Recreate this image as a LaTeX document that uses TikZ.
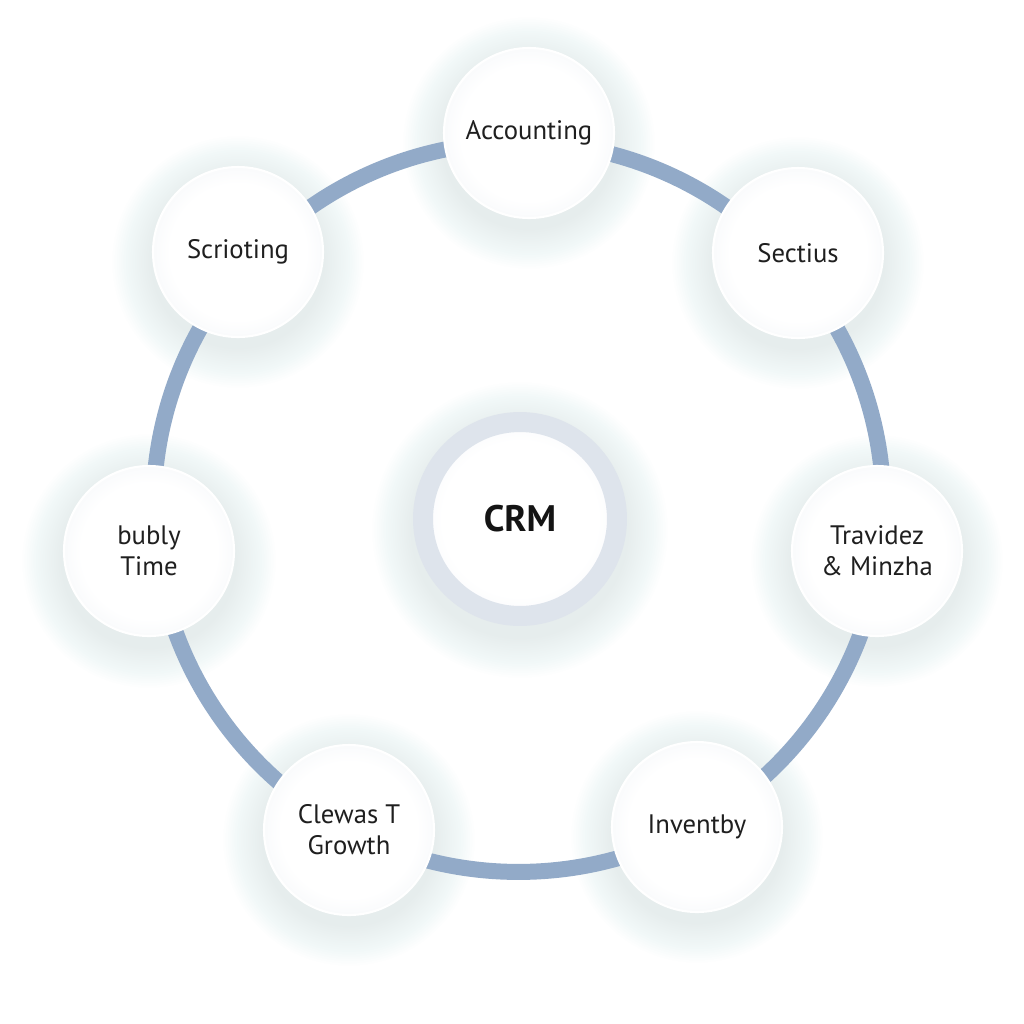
\documentclass[tikz,border=0pt]{standalone}
\usepackage{fontspec}
\setmainfont{PT Sans}
\definecolor{ringBlue}{RGB}{146,170,200}
\definecolor{crmRing}{RGB}{222,228,236}
\definecolor{bubbleEdge}{RGB}{226,232,239}
\definecolor{glowTint}{RGB}{200,223,233}
\pgfdeclareradialshading{bubbleshade}{\pgfpoint{0bp}{0bp}}{color(0bp)=(white); color(20bp)=(white); color(46bp)=(bubbleEdge); color(50bp)=(bubbleEdge)}

\begin{document}
\begin{tikzpicture}[x=0.02cm, y=-0.02cm,
   bubble/.style={circle, minimum size=3.4cm, inner sep=0pt, draw=white,
             line width=1.2pt, shade, shading=bubbleshade, align=center,
             text=black!88, font=\fontsize{15.2}{17.5}\selectfont},
   hub/.style={circle, minimum size=3.88cm, inner sep=0pt, draw=crmRing,
             line width=0.4cm, shade, shading=bubbleshade, text=black!92,
             font=\bfseries\fontsize{21}{24}\selectfont},
   ring/.style={draw=ringBlue, line width=0.32cm}]

  \fill[white] (0,0) rectangle (1024,1024);
  \useasboundingbox (0,0) rectangle (1024,1024);

  % ===== soft glow under the circles =====
  \foreach \gx/\gy/\gr in {529/133/85, 798/253/85, 877/551/85, 697/827/85,
                           349/830/85, 149/551/86, 238/252/85, 520/520/107}
    \foreach \k in {1,...,18}
      \fill[glowTint, opacity=0.022] (\gx,\gy+10) circle[radius=\gr*0.02cm+\k*0.045cm];

  % ===== ring =====
  \coordinate (ringc) at (518.5,507);
  \draw[ring] (ringc) circle[radius=7.3cm];

  % ===== hub =====
  \node[hub] (crm) at (520,519) {CRM};

  % ===== modules =====
  \node[bubble] (accounting) at (529,133) {Accounting};
  \node[bubble] (sectius) at (798,253) {Sectius};
  \node[bubble] (travidez) at (877,551) {Travidez\\\& Minzha};
  \node[bubble] (inventby) at (697,827) {Inventby};
  \node[bubble] (clewas) at (349,830) {Clewas T\\Growth};
  \node[bubble] (bubly) at (149,551) {bubly\\Time};
  \node[bubble] (scrioting) at (238,252) {Scrioting};

\end{tikzpicture}
\end{document}
